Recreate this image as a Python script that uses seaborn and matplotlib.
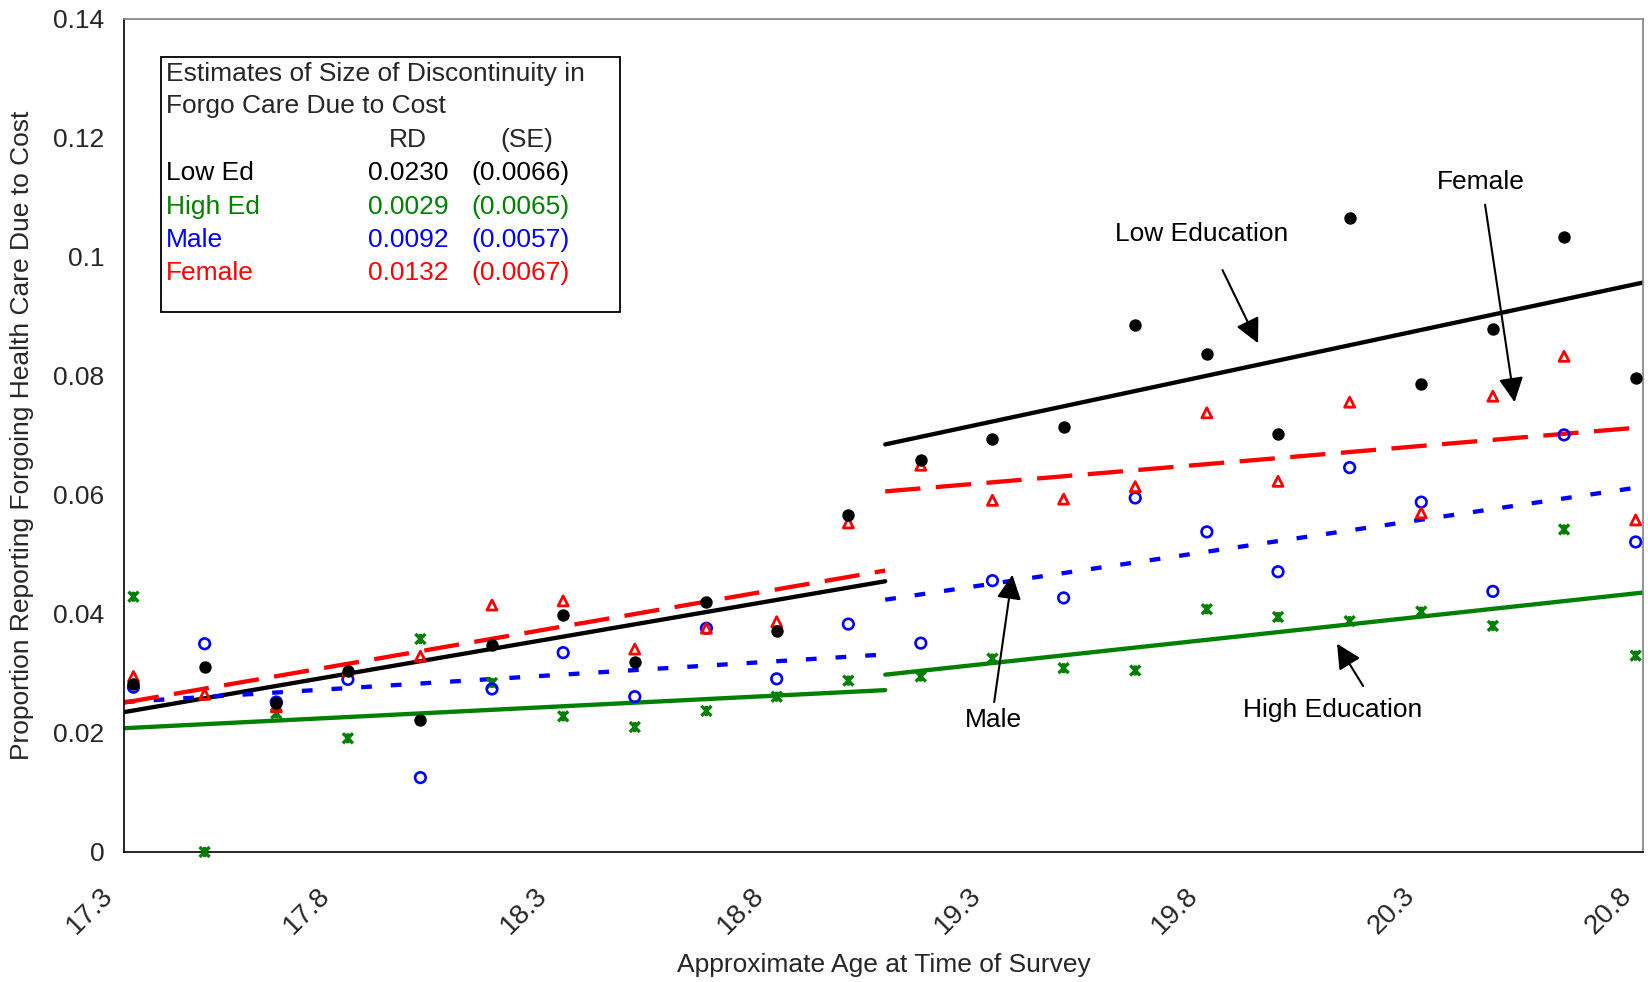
import numpy as np
import pandas as pd
import matplotlib
matplotlib.use('Agg')
import matplotlib.pyplot as plt
import matplotlib.transforms as mtransforms
from matplotlib.path import Path
from matplotlib.patches import Rectangle
import seaborn as sns

# Approximate age of each cell (x positions of the dots)
age = [17.322, 17.486, 17.651, 17.816, 17.983, 18.148, 18.312, 18.477, 18.642, 18.804, 18.969,
       19.136, 19.301, 19.465, 19.630, 19.795, 19.959, 20.124, 20.289, 20.454, 20.618, 20.783]

# Proportion forgoing care due to cost
low_ed = [0.0282, 0.0311, 0.0251, 0.0304, 0.0221, 0.0348, 0.0399, 0.0320, 0.0420, 0.0371, 0.0567,
          0.0659, 0.0694, 0.0715, 0.0886, 0.0837, 0.0703, 0.1065, 0.0786, 0.0879, 0.1033, 0.0796]
high_ed = [0.0429, 0.0000, 0.0233, 0.0191, 0.0358, 0.0284, 0.0228, 0.0210, 0.0237, 0.0261, 0.0288,
           0.0295, 0.0325, 0.0309, 0.0305, 0.0408, 0.0395, 0.0388, 0.0404, 0.0380, 0.0542, 0.0330]
male = [0.0277, 0.0350, 0.0252, 0.0290, 0.0125, 0.0274, 0.0335, 0.0261, 0.0376, 0.0291, 0.0383,
        0.0351, 0.0456, 0.0427, 0.0595, 0.0538, 0.0471, 0.0646, 0.0588, 0.0438, 0.0701, 0.0521]
female = [0.0295, 0.0265, 0.0244, 0.0305, 0.0329, 0.0415, 0.0422, 0.0341, 0.0376, 0.0387, 0.0553,
          0.0650, 0.0591, 0.0593, 0.0614, 0.0738, 0.0623, 0.0756, 0.0570, 0.0766, 0.0833, 0.0558]

# Fitted lines either side of the cutoff (value at start / end of each segment)
x_min, cutoff, x_max = 17.3, 19.054, 20.8
low_left, low_right = [0.0235, 0.0455], [0.0685, 0.0957]
high_left, high_right = [0.0208, 0.0272], [0.0298, 0.0436]
male_left, male_right = [0.0252, 0.0332], [0.0424, 0.0614]
female_left, female_right = [0.0251, 0.0473], [0.0606, 0.0714]

# Estimates table
groups = ['Low Ed', 'High Ed', 'Male', 'Female']
rd = ['0.0230', '0.0029', '0.0092', '0.0132']
se = ['(0.0066)', '(0.0065)', '(0.0057)', '(0.0067)']

x_ticks = [17.3, 17.8, 18.3, 18.8, 19.3, 19.8, 20.3, 20.8]
x_ticklabels = ['17.3', '17.8', '18.3', '18.8', '19.3', '19.8', '20.3', '20.8']
y_ticks = [0, 0.02, 0.04, 0.06, 0.08, 0.10, 0.12, 0.14]
y_ticklabels = ['0', '0.02', '0.04', '0.06', '0.08', '0.1', '0.12', '0.14']

BLACK, GREEN, BLUE, RED = '#000000', '#008000', '#0000FF', '#FF0000'

sns.set_theme(style='white')
plt.rcParams['font.family'] = ['Liberation Sans', 'DejaVu Sans']
FS = 19

pts = pd.DataFrame({'age': age, 'low_ed': low_ed, 'high_ed': high_ed,
                    'male': male, 'female': female})

fig = plt.figure(figsize=(16.48, 9.82), dpi=100)
ax = fig.add_axes([0.0752, 0.1324, 0.9218, 0.8483])

# star marker like Excel's (x with a vertical bar)
star = Path([(-1, -1), (1, 1), (-1, 1), (1, -1), (0, -1), (0, 1)],
            [Path.MOVETO, Path.LINETO] * 3)

# fitted segments
lw = 3.1
segs = [
    (low_left, low_right, BLACK, '-'),
    (high_left, high_right, GREEN, '-'),
    (male_left, male_right, BLUE, (0, (2.5, 4.4))),
    (female_left, female_right, RED, (0, (8.2, 3.6))),
]
for left, right, col, ls in segs:
    sns.lineplot(x=[x_min, cutoff], y=left, color=col, linewidth=lw, linestyle=ls, ax=ax)
    sns.lineplot(x=[cutoff, x_max], y=right, color=col, linewidth=lw, linestyle=ls, ax=ax)

# scatter points
sns.scatterplot(data=pts, x='age', y='high_ed', marker=star, s=52, facecolor='none',
                edgecolor=GREEN, linewidth=2.4, ax=ax, clip_on=False, zorder=5)
sns.scatterplot(data=pts, x='age', y='male', marker='o', s=58, facecolor='none',
                edgecolor=BLUE, linewidth=1.9, ax=ax, zorder=5)
sns.scatterplot(data=pts, x='age', y='female', marker='^', s=52, facecolor='none',
                edgecolor=RED, linewidth=2.0, ax=ax, zorder=5)
sns.scatterplot(data=pts, x='age', y='low_ed', marker='o', s=80, color=BLACK,
                edgecolor=BLACK, linewidth=0, ax=ax, zorder=6)

ax.set_xlim(x_min, x_max)
ax.set_ylim(0, 0.14)
ax.set_xticks(x_ticks)
ax.set_xticklabels(x_ticklabels, rotation=45, ha='right', va='center',
                   rotation_mode='anchor', fontsize=FS + 1)
ax.set_yticks(y_ticks)
ax.set_yticklabels(y_ticklabels, fontsize=FS)
ax.tick_params(axis='both', direction='out', length=6, width=1, color='black', pad=8)
ax.tick_params(axis='x', pad=14)
shift = mtransforms.ScaledTranslation(-0.15, -0.12, fig.dpi_scale_trans)
for lab in ax.get_xticklabels():
    lab.set_transform(lab.get_transform() + shift)

for side in ['left', 'bottom']:
    ax.spines[side].set_color('black')
    ax.spines[side].set_linewidth(1.2)
for side in ['top', 'right']:
    ax.spines[side].set_color('#808080')
    ax.spines[side].set_linewidth(1.2)

ax.set_xlabel('Approximate Age at Time of Survey', fontsize=FS)
ax.set_ylabel('Proportion Reporting Forgoing Health Care Due to Cost', fontsize=FS)
ax.xaxis.set_label_coords(0.5, -0.121)
ax.yaxis.set_label_coords(-0.059, 0.5)

# annotations
labels = [
    ('Low Education', (19.782, 0.1038), (19.831, 0.0978), (19.913, 0.0855)),
    ('Female', (20.427, 0.1126), (20.436, 0.1088), (20.504, 0.0756)),
    ('Male', (19.303, 0.0221), (19.305, 0.0252), (19.347, 0.0466)),
    ('High Education', (20.085, 0.0238), (20.155, 0.0279), (20.095, 0.0350)),
]
for txt, tpos, tail, head in labels:
    ax.text(tpos[0], tpos[1], txt, fontsize=FS, ha='center', va='center', color='black')
    ax.annotate('', xy=head, xytext=tail,
                arrowprops=dict(arrowstyle='-|>,head_length=0.5,head_width=0.25',
                                color='black', lw=1.5, mutation_scale=30,
                                shrinkA=0, shrinkB=0))

# estimates box
ax.add_patch(Rectangle((0.0244, 0.6488), 0.3022, 0.3059, transform=ax.transAxes,
                       facecolor='white', edgecolor='black', lw=1.3, zorder=7))
tx = 0.0277
ax.text(tx, 0.9344, 'Estimates of Size of Discontinuity in', transform=ax.transAxes,
        fontsize=FS, va='center', zorder=8)
ax.text(tx, 0.8953, 'Forgo Care Due to Cost', transform=ax.transAxes,
        fontsize=FS, va='center', zorder=8)
ax.text(0.1869, 0.855, 'RD', transform=ax.transAxes, fontsize=FS, ha='center',
        va='center', zorder=8)
ax.text(0.2654, 0.855, '(SE)', transform=ax.transAxes, fontsize=FS, ha='center',
        va='center', zorder=8)
row_y = [0.8146, 0.7743, 0.7352, 0.6948]
for g, r, s, col, yy in zip(groups, rd, se, [BLACK, GREEN, BLUE, RED], row_y):
    ax.text(tx, yy, g, transform=ax.transAxes, fontsize=FS, color=col, va='center', zorder=8)
    ax.text(0.1869, yy, r, transform=ax.transAxes, fontsize=FS, color=col, ha='center',
            va='center', zorder=8)
    ax.text(0.2608, yy, s, transform=ax.transAxes, fontsize=FS, color=col, ha='center',
            va='center', zorder=8)

fig.savefig('out.png', dpi=100)
